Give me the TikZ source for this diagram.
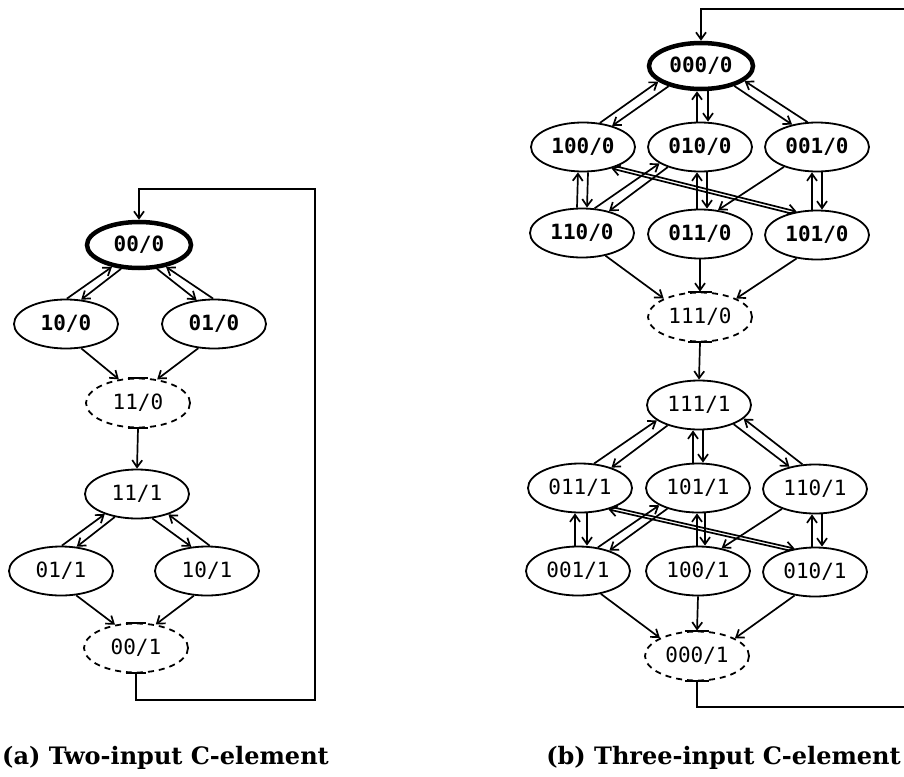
\documentclass[tikz,border=0pt]{standalone}
\usepackage{fontspec}
\setmainfont{DejaVu Serif}
\newfontfamily\statefont{DejaVu Sans Mono}
\usetikzlibrary{shapes.geometric,arrows.meta,calc}
\begin{document}
\begin{tikzpicture}[x=1pt,y=-1pt,
 st/.style={ellipse,draw,line width=1.8pt,minimum width=104pt,minimum height=49pt,inner sep=0pt,font=\statefont\fontsize{21}{21}\selectfont},
 stb/.style={st,font=\statefont\bfseries\fontsize{21}{21}\selectfont},
 initst/.style={stb,line width=4.5pt,minimum height=46pt},
 dsh/.style={st,dash pattern=on 6pt off 5pt},
 ed/.style={line width=1.7pt,-{Straight Barb[length=7pt,width=10pt,line width=1.7pt]}},
 barline/.style={line width=2pt},
 captxt/.style={inner sep=0pt,font=\bfseries\fontsize{24}{28}\selectfont}]
\useasboundingbox (0,0) rectangle (904,776);
\clip (0,0) rectangle (904,776);

% ---------- (a) two-input ----------
\node[initst] (A00) at (139,245) {00/0};
\node[stb] (A10) at (66,324) {10/0};
\node[stb] (A01) at (214,324) {01/0};
\node[dsh] (A11z) at (138,403) {11/0};
\node[st] (A11o) at (137,494) {11/1};
\node[st] (A01o) at (61,571) {01/1};
\node[st] (A10o) at (207,571) {10/1};
\node[dsh] (A00o) at (136,648) {00/1};

\draw[ed] (A10.88) -- (A00.219);
\draw[ed] (A00.233) -- (A10.58);
\draw[ed] (A00.307) -- (A01.126);
\draw[ed] (A01.92) -- (A00.321);
\draw[ed] (A10.302) -- (A11z.129);
\draw[ed] (A01.237) -- (A11z.51);
\draw[ed] (A11z.south) -- (A11o.north);
\draw[ed] (A01o.88) -- (A11o.212);
\draw[ed] (A11o.226) -- (A01o.57);
\draw[ed] (A11o.302) -- (A10o.123);
\draw[ed] (A10o.84) -- (A11o.327);
\draw[ed] (A01o.302) -- (A00o.132);
\draw[ed] (A10o.242) -- (A00o.50);
\foreach \n in {A11z,A00o}{
  \draw[barline] ([xshift=-10pt]\n.north) -- ([xshift=10pt]\n.north);
  \draw[barline] ([xshift=-10pt]\n.south) -- ([xshift=10pt]\n.south);
}
\coordinate (fa1) at (315,700);
\coordinate (fa2) at (315,189);
\draw[ed] (A00o.south) |- (fa1) -- (fa2) -| (A00.north);

% ---------- (b) three-input ----------
\node[initst] (B000) at (701,66) {000/0};
\node[stb] (B100) at (583,147) {100/0};
\node[stb] (B010) at (700,147) {010/0};
\node[stb] (B001) at (817,147) {001/0};
\node[stb] (B110) at (582,233) {110/0};
\node[stb] (B011) at (700,234) {011/0};
\node[stb] (B101) at (817,235) {101/0};
\node[dsh] (B111z) at (700,317) {111/0};
\node[st] (B111o) at (699,405) {111/1};
\node[st] (B011o) at (580,488) {011/1};
\node[st] (B101o) at (698,488) {101/1};
\node[st] (B110o) at (815,489) {110/1};
\node[st] (B001o) at (578,571) {001/1};
\node[st] (B100o) at (698,571) {100/1};
\node[st] (B010o) at (815,572) {010/1};
\node[dsh] (B000o) at (697,656) {000/1};

\draw[ed] (B100.55) -- (B000.200);
\draw[ed] (B000.212) -- (B100.36);
\draw[ed] (B000.329) -- (B001.138);
\draw[ed] (B001.111) -- (B000.341);
\draw[ed] ([xshift=-3pt]B010.north) -- ([xshift=-4pt]B000.south);
\draw[ed] ([xshift=7pt]B000.south) -- ([xshift=8pt]B010.north);
\draw[ed] ([xshift=-5pt]B110.north) -- ([xshift=-5pt]B100.south);
\draw[ed] ([xshift=5pt]B100.south) -- ([xshift=5pt]B110.north);
\draw[ed] ([xshift=-3pt]B011.north) -- ([xshift=-3pt]B010.south);
\draw[ed] ([xshift=7pt]B010.south) -- ([xshift=7pt]B011.north);
\draw[ed] ([xshift=-5pt]B101.north) -- ([xshift=-5pt]B001.south);
\draw[ed] ([xshift=5pt]B001.south) -- ([xshift=5pt]B101.north);
\draw[ed] (B110.63) -- (B010.202);
\draw[ed] (B010.212) -- (B110.39);
\draw[ed] (B101.141) -- (B100.323);
\draw[ed] (B100.330) -- (B101.131);
\draw[ed] (B001.211) -- (B011.53);
\draw[ed] (B110.316) -- (B111z.153);
\draw[ed] (B011.south) -- (B111z.north);
\draw[ed] (B101.229) -- (B111z.27);
\draw[ed] (B111z.south) -- (B111o.north);

\draw[ed] (B011o.60) -- (B111o.200);
\draw[ed] (B111o.213) -- (B011o.33);
\draw[ed] ([xshift=-5pt]B101o.north) -- ([xshift=-6pt]B111o.south);
\draw[ed] ([xshift=4pt]B111o.south) -- ([xshift=5pt]B101o.north);
\draw[ed] (B111o.331) -- (B110o.139);
\draw[ed] (B110o.117) -- (B111o.343);
\draw[ed] ([xshift=-3pt]B001o.north) -- ([xshift=-5pt]B011o.south);
\draw[ed] ([xshift=7pt]B011o.south) -- ([xshift=9pt]B001o.north);
\draw[ed] ([xshift=-1pt]B100o.north) -- ([xshift=-1pt]B101o.south);
\draw[ed] ([xshift=7pt]B101o.south) -- ([xshift=7pt]B100o.north);
\draw[ed] ([xshift=-3pt]B010o.north) -- ([xshift=-3pt]B110o.south);
\draw[ed] ([xshift=7pt]B110o.south) -- ([xshift=7pt]B010o.north);
\draw[ed] (B001o.50) -- (B101o.204);
\draw[ed] (B101o.214) -- (B001o.33);
\draw[ed] (B010o.141) -- (B011o.323);
\draw[ed] (B011o.330) -- (B010o.131);
\draw[ed] (B110o.211) -- (B100o.44);
\draw[ed] (B001o.315) -- (B000o.154);
\draw[ed] (B100o.south) -- (B000o.north);
\draw[ed] (B010o.229) -- (B000o.25);
\foreach \n in {B111z,B000o}{
  \draw[barline] ([xshift=-12pt]\n.north) -- ([xshift=12pt]\n.north);
  \draw[barline] ([xshift=-12pt]\n.south) -- ([xshift=12pt]\n.south);
}
\coordinate (fb1) at (960,707);
\coordinate (fb2) at (960,9);
\draw[ed] (B000o.south) |- (fb1) -- (fb2) -| (B000.north);

% ---------- captions ----------
\node[captxt,anchor=base west] (capa) at (2,764) {(a) Two-input C-element};
\node[captxt,anchor=base east] (capb) at (901,764) {(b) Three-input C-element};
\end{tikzpicture}
\end{document}
